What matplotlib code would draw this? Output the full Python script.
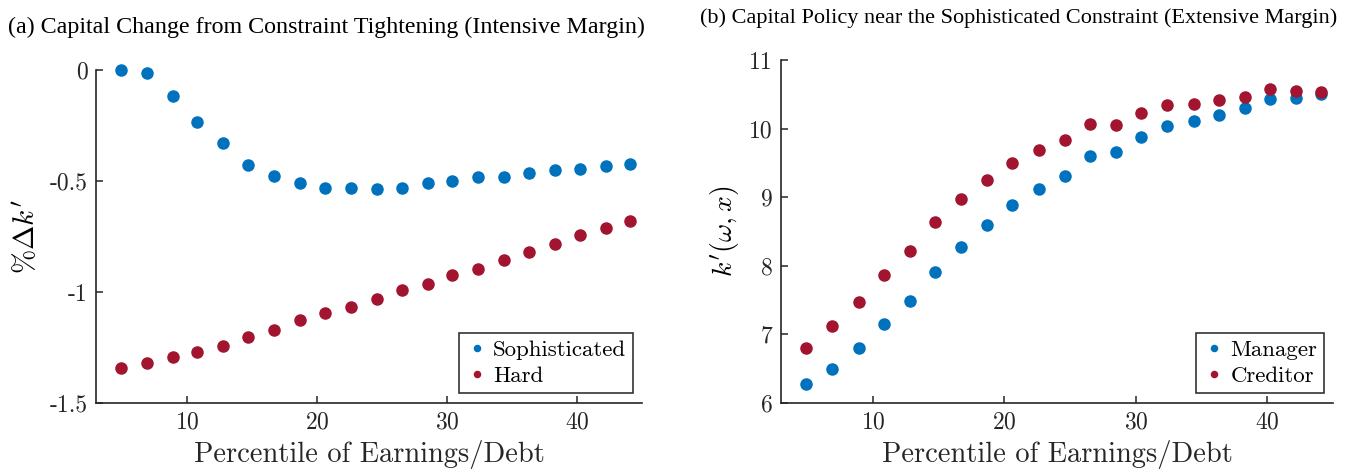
import matplotlib
matplotlib.use('Agg')
import matplotlib.pyplot as plt

plt.rcParams['font.family'] = 'serif'
plt.rcParams['font.serif'] = ['cmr10']
plt.rcParams['mathtext.fontset'] = 'cm'
plt.rcParams['axes.unicode_minus'] = False
plt.rcParams['axes.formatter.use_mathtext'] = True

# percentile grid (x positions)
pct = [4.9, 6.9, 8.9, 10.8, 12.8, 14.7, 16.7, 18.7, 20.6, 22.6, 24.6,
       26.5, 28.5, 30.4, 32.4, 34.4, 36.3, 38.3, 40.2, 42.2, 44.1]

# panel (a): % change in k'
soph = [0.0, -0.015, -0.115, -0.234, -0.331, -0.427, -0.479, -0.510, -0.533, -0.531, -0.534,
        -0.531, -0.509, -0.499, -0.481, -0.484, -0.464, -0.449, -0.445, -0.433, -0.424]
hard = [-1.343, -1.321, -1.291, -1.270, -1.242, -1.203, -1.170, -1.127, -1.095, -1.069, -1.033,
        -0.991, -0.962, -0.923, -0.898, -0.857, -0.821, -0.783, -0.742, -0.713, -0.681]

# panel (b): k'(w, x)
manager = [6.283, 6.502, 6.795, 7.146, 7.483, 7.912, 8.278, 8.601, 8.883, 9.122, 9.316,
           9.603, 9.657, 9.871, 10.036, 10.114, 10.197, 10.294, 10.426, 10.440, 10.499]
creditor = [6.800, 7.122, 7.473, 7.863, 8.210, 8.640, 8.976, 9.258, 9.496, 9.681, 9.827,
            10.066, 10.051, 10.221, 10.343, 10.358, 10.411, 10.465, 10.572, 10.547, 10.538]

blue = '#0072BD'
red = '#A2142F'

W, H = 1351, 474
fig = plt.figure(figsize=(W / 100, H / 100), dpi=100)
ax1 = fig.add_axes([96 / W, 1 - 403 / H, 546 / W, 333 / H])
ax2 = fig.add_axes([781 / W, 1 - 403 / H, 552 / W, 343 / H])

def style(ax):
    for s in ['top', 'right']:
        ax.spines[s].set_visible(False)
    for s in ['left', 'bottom']:
        ax.spines[s].set_color('#262626')
        ax.spines[s].set_linewidth(1.2)
    ax.tick_params(direction='in', length=5, width=1.1, color='#262626',
                   labelsize=17, labelcolor='#262626', pad=6)
    ax.set_xlim(3, 45)
    ax.set_xticks([10, 20, 30, 40])
    ax.set_xlabel('Percentile of Earnings/Debt', fontsize=20.5, color='#262626', labelpad=5)

def legend(ax, x, y):
    # lower right corner of the box placed in figure pixels
    leg = ax.legend(loc='lower right', bbox_to_anchor=(x / W, 1 - y / H),
                    bbox_transform=fig.transFigure, borderaxespad=0, fontsize=16.5,
                    frameon=True, fancybox=False, edgecolor='black', markerscale=0.55,
                    handletextpad=0.2, handlelength=1.0, borderpad=0.3, labelspacing=0.28)
    leg.get_frame().set_linewidth(1.2)
    return leg

ax1.plot(pct, soph, 'o', color=blue, markersize=8, label='Sophisticated', clip_on=False)
ax1.plot(pct, hard, 'o', color=red, markersize=8, label='Hard', clip_on=False)
style(ax1)
ax1.set_ylim(-1.5, 0)
ax1.set_yticks([-1.5, -1, -0.5, 0])
ax1.set_yticklabels(['-1.5', '-1', '-0.5', '0'])
ax1.set_ylabel(r"$\%\Delta k'$", fontsize=21, labelpad=6)
fig.text(8 / W, 1 - 27 / H, '(a) Capital Change from Constraint Tightening (Intensive Margin)',
         family='Liberation Serif', fontsize=17.3, ha='left', va='center')
legend(ax1, 633, 393)

ax2.plot(pct, manager, 'o', color=blue, markersize=8, label='Manager', clip_on=False)
ax2.plot(pct, creditor, 'o', color=red, markersize=8, label='Creditor', clip_on=False)
style(ax2)
ax2.set_ylim(6, 11)
ax2.set_yticks([6, 7, 8, 9, 10, 11])
ax2.set_yticklabels(['6', '7', '8', '9', '10', '11'])
ax2.set_ylabel(r"$k'(\omega,x)$", fontsize=20, labelpad=6)
fig.text(700 / W, 1 - 18 / H, '(b) Capital Policy near the Sophisticated Constraint (Extensive Margin)',
         family='Liberation Serif', fontsize=16, ha='left', va='center')
legend(ax2, 1324, 393)

fig.savefig('out.png', dpi=100)
